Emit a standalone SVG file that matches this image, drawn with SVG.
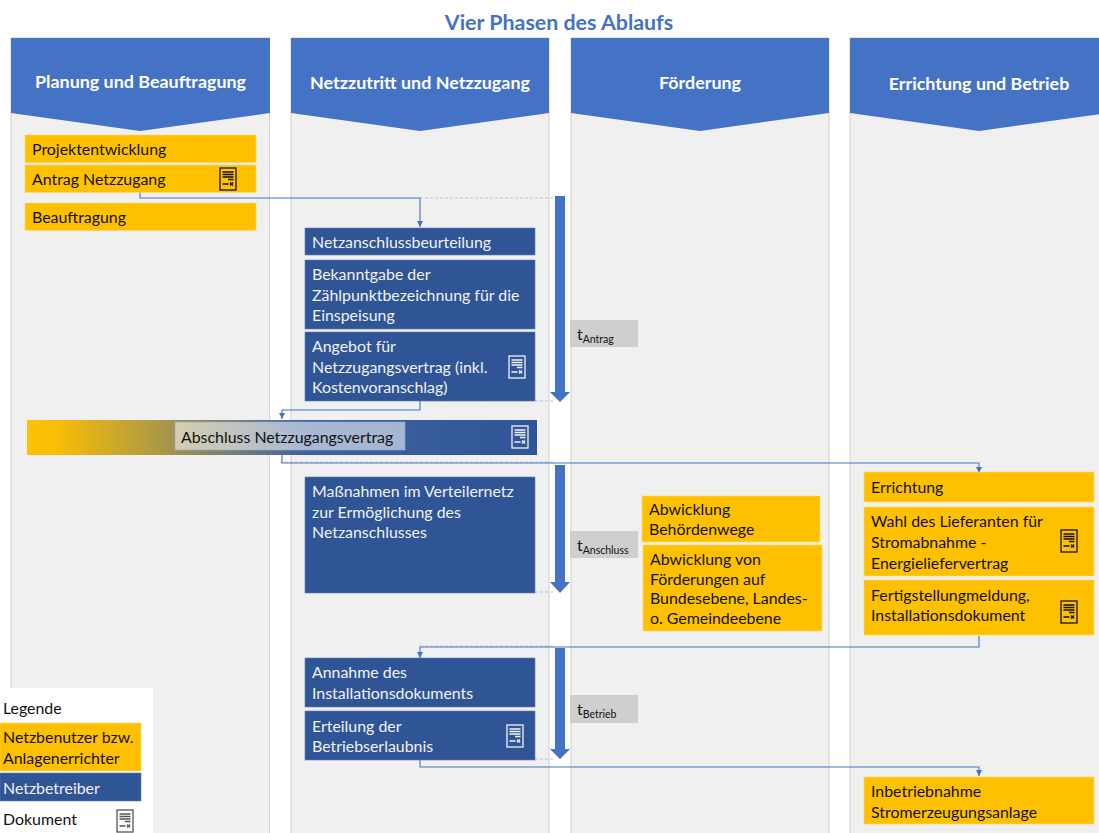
<svg xmlns="http://www.w3.org/2000/svg" width="1099" height="833" viewBox="0 0 1099 833">
<style>
text{font-family:Lato,"Open Sans","Liberation Sans",sans-serif;font-size:15.900px;fill:#111;transform:translateY(.7px)}
.t{fill:#f2f2f2}
.h{fill:#fff;font-size:17.900px;font-weight:700;text-anchor:middle}
.lane{fill:#f0f0f0;stroke:#d0d0d0;stroke-width:1}
.head{fill:#4472c4}
.y{fill:#ffc000;stroke:#ffd966;stroke-width:.6}
.b{fill:#2f5597;stroke:#5b7db8;stroke-width:.6}
.g{fill:#d0cece}
.c{fill:none;stroke:#4472c4;stroke-width:1.1}
.f{fill:none;stroke:#b4c3e0;stroke-width:1;stroke-dasharray:3 2}
.ar{fill:#4472c4}
.sub{font-size:10.5px}
</style>
<defs>
<marker id="m" markerWidth="7" markerHeight="6" refX="6" refY="3" orient="auto" markerUnits="userSpaceOnUse"><path d="M0 0L6 3L0 6Z" fill="#4472c4"/></marker>
<linearGradient id="gr" x1="0" x2="1" y1="0" y2="0"><stop offset="0" stop-color="#ffc000"/><stop offset=".06" stop-color="#f8bd06"/><stop offset=".55" stop-color="#3f62a0"/><stop offset="1" stop-color="#2f5597"/></linearGradient>
<g id="doc" fill="none" stroke-width="1.3"><rect x="0" y="0" width="16" height="22"/><path d="M2.5 4H13.5M2.5 6.5H13.5M2.5 9H13.5M8 11.500H13.5M2.500 16H8.500M10 14.500L13 17.500M13 14.500L10 17.500"/></g>
</defs>
<text x="559" y="29" text-anchor="middle" style="font-size:21.400px;font-weight:700;fill:#4472c4">Vier Phasen des Ablaufs</text>
<g id="lane1"><rect class="lane" x="11" y="38" width="258.500" height="796"/><path class="head" d="M11 38H270V113L140 131L11 113Z"/><text class="h" x="140.500" y="87">Planung und Beauftragung</text></g>
<g id="lane2"><rect class="lane" x="291" y="38" width="258" height="796"/><path class="head" d="M291 38H549V113L420 131L291 113Z"/><text class="h" x="420" y="88">Netzzutritt und Netzzugang</text></g>
<g id="lane3"><rect class="lane" x="571" y="38" width="258" height="796"/><path class="head" d="M571 38H829V113L700 131L571 113Z"/><text class="h" x="700" y="88">Förderung</text></g>
<g id="lane4"><rect class="lane" x="850" y="38" width="258" height="796"/><path class="head" d="M850 38H1108V113L979 131L850 113Z"/><text class="h" x="979" y="89">Errichtung und Betrieb</text></g>
<g id="connectors">
<path class="f" d="M420 198H555M420 401H555M280 462H555M420 646H555M535 759H555M535 592H555"/>
<path class="c" d="M140 192V198H420V227" marker-end="url(#m)"/>
<path class="c" d="M420 401V410H282V419" marker-end="url(#m)"/>
<path class="c" d="M282 455V463H979V473" marker-end="url(#m)"/>
<path class="c" d="M979 636V647H420V658" marker-end="url(#m)"/>
<path class="c" d="M420 760V767H979V776" marker-end="url(#m)"/>
<path class="ar" d="M555 196H565V392H570L560 402L550 392H555Z"/>
<path class="ar" d="M555 465H565V582H570L560 593L550 582H555Z"/>
<path class="ar" d="M555 648H565V749H570L560 759L550 749H555Z"/>
</g>
<g id="n1"><rect class="y" x="25" y="135" width="231" height="27.500"/><text x="32" y="154">Projektentwicklung</text></g>
<g id="n2"><rect class="y" x="25" y="165" width="231" height="27.500"/><text x="32" y="184">Antrag Netzzugang</text><use href="#doc" x="220" y="168" stroke="#111"/></g>
<g id="n3"><rect class="y" x="25" y="203" width="231" height="27.500"/><text x="32" y="222">Beauftragung</text></g>
<g id="n4"><rect class="b" x="305" y="228" width="230" height="27"/><text class="t" x="312" y="247">Netzanschlussbeurteilung</text></g>
<g id="n5"><rect class="b" x="305" y="260" width="230" height="69"/><text class="t" x="312" y="279">Bekanntgabe der</text><text class="t" x="312" y="300">Zählpunktbezeichnung für die</text><text class="t" x="312" y="320">Einspeisung</text></g>
<g id="n6"><rect class="b" x="305" y="332" width="230" height="69"/><text class="t" x="312" y="351">Angebot für</text><text class="t" x="312" y="372">Netzzugangsvertrag (inkl.</text><text class="t" x="312" y="392">Kostenvoranschlag)</text><use href="#doc" x="509" y="356" stroke="#f2f2f2"/></g>
<g id="n7"><rect x="27" y="420" width="510" height="35" fill="url(#gr)"/><rect x="175" y="422" width="230" height="28" fill="#fff" fill-opacity=".55" stroke="#8faadc" stroke-width=".6"/><text x="181" y="442">Abschluss Netzzugangsvertrag</text><use href="#doc" x="512" y="426" stroke="#f2f2f2"/></g>
<g id="n8"><rect class="b" x="305" y="477" width="230" height="116"/><text class="t" x="312" y="496">Maßnahmen im Verteilernetz</text><text class="t" x="312" y="517">zur Ermöglichung des</text><text class="t" x="312" y="537">Netzanschlusses</text></g>
<g id="n9"><rect class="y" x="642" y="496" width="178" height="46"/><text x="649" y="514">Abwicklung</text><text x="649" y="534">Behördenwege</text></g>
<g id="n10"><rect class="y" x="643" y="545" width="179" height="86"/><text x="650" y="564">Abwicklung von</text><text x="650" y="584">Förderungen auf</text><text x="650" y="603">Bundesebene, Landes-</text><text x="650" y="623">o. Gemeindeebene</text></g>
<g id="n11"><rect class="y" x="864" y="472" width="230" height="30"/><text x="871" y="492">Errichtung</text></g>
<g id="n12"><rect class="y" x="864" y="507" width="230" height="69"/><text x="871" y="526">Wahl des Lieferanten für</text><text x="871" y="547">Stromabnahme -</text><text x="871" y="568">Energieliefervertrag</text><use href="#doc" x="1061" y="530" stroke="#111"/></g>
<g id="n13"><rect class="y" x="864" y="580" width="230" height="55"/><text x="871" y="600">Fertigstellungmeldung,</text><text x="871" y="620">Installationsdokument</text><use href="#doc" x="1061" y="601" stroke="#111"/></g>
<g id="n14"><rect class="b" x="305" y="658" width="230" height="49"/><text class="t" x="312" y="677">Annahme des</text><text class="t" x="312" y="698">Installationsdokuments</text></g>
<g id="n15"><rect class="b" x="305" y="711" width="230" height="49"/><text class="t" x="312" y="731">Erteilung der</text><text class="t" x="312" y="751">Betriebserlaubnis</text><use href="#doc" x="507" y="725" stroke="#f2f2f2"/></g>
<g id="n16"><rect class="y" x="864" y="777" width="230" height="47"/><text x="871" y="796">Inbetriebnahme</text><text x="871" y="817">Stromerzeugungsanlage</text></g>
<g id="t1"><rect class="g" x="570" y="320" width="68" height="27"/><text x="577" y="339">t<tspan class="sub" dy="3">Antrag</tspan></text></g>
<g id="t2"><rect class="g" x="570" y="531" width="68" height="27"/><text x="577" y="550">t<tspan class="sub" dy="3">Anschluss</tspan></text></g>
<g id="t3"><rect class="g" x="570" y="695" width="68" height="28"/><text x="577" y="714">t<tspan class="sub" dy="3">Betrieb</tspan></text></g>
<g id="legend"><rect x="0" y="688" width="153" height="145" fill="#fff"/><text x="3" y="713">Legende</text><rect class="y" x="0" y="723" width="141" height="48"/><text x="3" y="742">Netzbenutzer bzw.</text><text x="3" y="763">Anlagenerrichter</text><rect class="b" x="0" y="773" width="141" height="28"/><text class="t" x="3" y="793">Netzbetreiber</text><text x="3" y="824">Dokument</text><use href="#doc" x="117" y="810" stroke="#555"/></g>
</svg>
